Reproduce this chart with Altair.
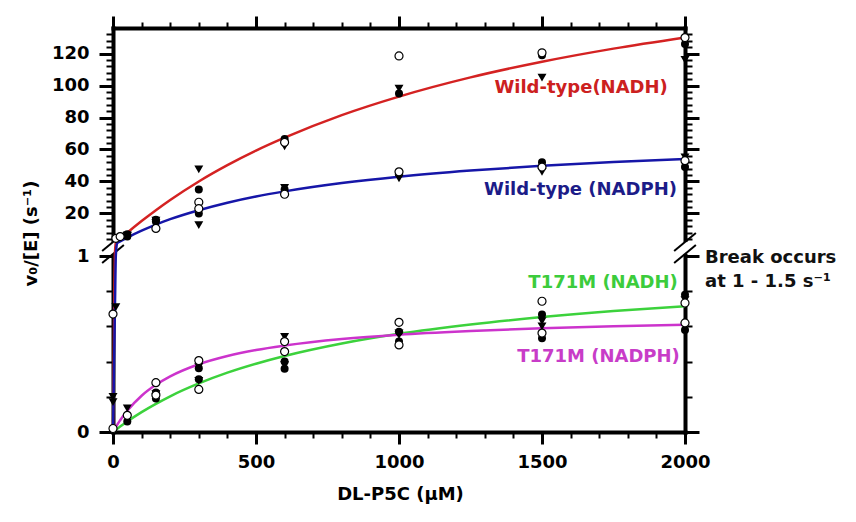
import altair as alt
import pandas as pd

# ---------------- data ----------------
# fitted curves (x in µM, v0/[E] in s^-1)
curve_x = [0, 1, 2, 3, 5, 7, 10, 15, 25, 50, 100, 150, 200, 300, 400, 500, 600,
           800, 1000, 1250, 1500, 1750, 2000]
wt_nadh_curve = [0, 0.16, 0.33, 0.49, 0.82, 1.14, 1.62, 2.42, 4.0, 7.9, 15.2, 22.0,
                 28.4, 40.0, 50.2, 59.3, 67.4, 81.5, 93.1, 105.1, 114.9, 123.1, 130.1]
wt_nadph_curve = [0, 0.10, 0.21, 0.32, 0.52, 0.73, 1.04, 1.55, 2.55, 4.9, 9.2, 13.0,
                  16.4, 22.0, 26.7, 30.6, 33.8, 39.0, 43.0, 46.8, 49.8, 52.1, 54.0]
t171m_nadh_curve = [0, 0.001, 0.0025, 0.004, 0.006, 0.009, 0.013, 0.019, 0.031, 0.06,
                    0.113, 0.16, 0.203, 0.276, 0.337, 0.388, 0.432, 0.503, 0.558,
                    0.611, 0.653, 0.687, 0.714]
t171m_nadph_curve = [0, 0.003, 0.006, 0.009, 0.015, 0.02, 0.028, 0.042, 0.067, 0.121,
                     0.206, 0.268, 0.316, 0.385, 0.432, 0.466, 0.491, 0.528, 0.553,
                     0.574, 0.590, 0.601, 0.610]

# replicate data points: x, value, marker ("filled", "open", "triangle")
pts_x = [
    # wild-type NADH
    10, 50, 50, 150, 150, 300, 300, 300, 600, 600, 600, 1000, 1000, 1000,
    1500, 1500, 1500, 2000, 2000, 2000,
    # wild-type NADPH
    25, 50, 50, 150, 150, 150, 300, 300, 300, 600, 600, 600, 1000, 1000, 1000,
    1500, 1500, 1500, 2000, 2000, 2000,
    # wild-type at very low substrate (below the break)
    0, 10, 0, 0, 0,
    # T171M NADH
    50, 150, 150, 150, 300, 300, 300, 600, 600, 600, 1000, 1000, 1000,
    1500, 1500, 1500, 2000, 2000, 2000,
    # T171M NADPH
    50, 50, 150, 150, 150, 300, 300, 300, 600, 600, 600, 1000, 1000, 1000,
    1500, 1500, 1500, 2000, 2000, 2000,
]
pts_v = [
    4.4, 7.0, 6.2, 16.0, 15.5, 35.0, 47.5, 27.0, 66.5, 62.0, 64.5, 95.0, 98.0, 118.5,
    119.0, 105.0, 120.5, 126.0, 116.0, 130.0,
    5.5, 5.5, 6.0, 15.0, 10.6, 14.0, 20.0, 23.0, 12.7, 35.0, 36.0, 32.0, 45.0, 42.0, 46.0,
    52.0, 46.0, 49.0, 49.0, 55.0, 53.0,
    0.67, 0.71, 0.20, 0.17, 0.02,
    0.06, 0.19, 0.20, 0.21, 0.242, 0.30, 0.29, 0.36, 0.38, 0.457, 0.623, 0.514, 0.55,
    0.743, 0.667, 0.63, 0.78, 0.733, 0.75,
    0.134, 0.095, 0.28, 0.225, 0.215, 0.406, 0.362, 0.37, 0.54, 0.514, 0.40,
    0.57, 0.56, 0.495, 0.562, 0.533, 0.60, 0.62, 0.58, 0.60,
]
pts_m = [
    "open", "filled", "triangle", "filled", "triangle", "filled", "triangle", "open",
    "filled", "triangle", "open", "filled", "triangle", "open", "filled", "triangle",
    "open", "filled", "triangle", "open",
    "open", "filled", "triangle", "filled", "open", "triangle", "filled", "open",
    "triangle", "filled", "triangle", "open", "filled", "triangle", "open", "filled",
    "triangle", "open", "filled", "triangle", "open",
    "open", "triangle", "triangle", "triangle", "open",
    "filled", "filled", "triangle", "open", "open", "filled", "triangle", "filled",
    "triangle", "open", "open", "filled", "triangle", "open", "filled", "triangle",
    "filled", "open", "triangle",
    "triangle", "open", "open", "filled", "triangle", "open", "filled", "triangle",
    "triangle", "open", "filled", "filled", "triangle", "open", "open", "filled",
    "triangle", "open", "filled", "triangle",
]

# in-plot labels
label_text = ["Wild-type(NADH)", "Wild-type (NADPH)", "T171M (NADH)", "T171M (NADPH)",
              "Break occurs", "at 1 - 1.5 s⁻¹"]
label_x = [1940, 1972, 1975, 1982, 2070, 2070]
label_v = [98.3, 34.6, 0.844, 0.427, 0.99, 0.85]
label_color = ["#cc2020", "#1c1c88", "#3ccc3c", "#c83cc8", "#111111", "#111111"]
label_align = ["right", "right", "right", "right", "left", "left"]

# axis tick values
x_major = [0, 500, 1000, 1500, 2000]
x_minor = [100, 200, 300, 400, 600, 700, 800, 900, 1100, 1200, 1300, 1400,
           1600, 1700, 1800, 1900]
y_major = [0, 1, 20, 40, 60, 80, 100, 120]
y_minor = [0.2, 0.4, 0.6, 0.8, 4, 8, 12, 16, 24, 28, 32, 36, 44, 48, 52, 56, 64, 68,
           72, 76, 84, 88, 92, 96, 104, 108, 112, 116, 124, 128, 132]

# axis-break marks (two slashes on each vertical axis) and the gap they enclose
brk_x = [-38, -38, 1962, 1962]
brk_x2 = [38, 38, 2038, 2038]
brk_v = [1.19, 0.96, 1.19, 0.96]
brk_v2 = [7.76, 1.42, 7.76, 1.42]
gap_x = [0, 2000]
gap_v = [1.08, 1.08]
gap_v2 = [2.1, 2.1]

# ---------------- chart ----------------
W, H = 572, 404
FONT = "DejaVu Sans"


def xs():
    return alt.Scale(domain=[0, 2000], nice=False, zero=False)


def ys():
    return alt.Scale(domain=[0, 1, 1.5, 136], range=[H, 228, 215, 0], nice=False, zero=False)


curve_df = pd.concat([
    pd.DataFrame({"x": curve_x, "v": vals, "series": name, "color": col,
                  "k": list(range(len(curve_x)))})
    for name, vals, col in [
        ("a_green", t171m_nadh_curve, "#3cd23c"),
        ("b_magenta", t171m_nadph_curve, "#cc33cc"),
        ("c_red", wt_nadh_curve, "#d42222"),
        ("d_blue", wt_nadph_curve, "#1616a8"),
    ]
])
pts_df = pd.DataFrame({"x": pts_x, "v": pts_v, "marker": pts_m})
lab_df = pd.DataFrame({"text": label_text, "x": label_x, "v": label_v,
                       "color": label_color, "align": label_align})
brk_df = pd.DataFrame({"x": brk_x, "x2": brk_x2, "v": brk_v, "v2": brk_v2})
gap_df = pd.DataFrame({"x": gap_x, "v": gap_v, "v2": gap_v2})

axis_style = dict(domainColor="black", tickColor="black", grid=False,
                  labelFont=FONT, labelFontWeight="bold", labelFontSize=18,
                  labelColor="black", titleFont=FONT, titleFontWeight="bold",
                  titleFontSize=18, titleColor="black", labelFlush=False,
                  labelOverlap=False, domainCap="square")
plain_style = {k: v for k, v in axis_style.items() if not k.startswith(("label", "title"))}

x_main = alt.Axis(orient="bottom", values=x_major, tickSize=12, tickWidth=3,
                  domainWidth=4, labelPadding=9, format="d",
                  title="DL-P5C (μM)", titleX=287, titleY=62,
                  titleBaseline="middle", **axis_style)
y_main = alt.Axis(orient="left", values=y_major, tickSize=14, tickWidth=3,
                  domainWidth=4, labelPadding=10, format="d",
                  title="v₀/[E] (s⁻¹)", titleX=-82, titleY=205,
                  titleBaseline="middle", titleAngle=-90, **axis_style)


def mirror_axes(orient_x, orient_y, xvals, yvals, xt, yt, tw, domain):
    return (alt.Axis(orient=orient_x, values=xvals, tickSize=xt, tickWidth=tw,
                     domain=domain, domainWidth=4, labels=False, title=None, **plain_style),
            alt.Axis(orient=orient_y, values=yvals, tickSize=yt, tickWidth=tw,
                     domain=domain, domainWidth=4, labels=False, title=None, **plain_style))


def axis_layer(ax, ay):
    return alt.Chart(gap_df).mark_point(opacity=0).encode(
        x=alt.X("x:Q", scale=xs(), axis=ax),
        y=alt.Y("v:Q", scale=ys(), axis=ay),
    )


ax1, ay1 = mirror_axes("bottom", "left", x_minor, y_minor, 6, 7, 2, False)
ax2, ay2 = mirror_axes("top", "right", x_major, y_major, 12, 14, 3, True)
ax3, ay3 = mirror_axes("top", "right", x_minor, y_minor, 6, 7, 2, False)

main_axes = axis_layer(x_main, y_main)

gap = alt.Chart(gap_df).mark_rule(color="white", strokeWidth=8).encode(
    x=alt.X("x:Q", scale=xs(), axis=None),
    y=alt.Y("v:Q", scale=ys(), axis=None),
    y2="v2:Q",
)
brk = alt.Chart(brk_df).mark_rule(color="black", strokeWidth=2).encode(
    x=alt.X("x:Q", scale=xs(), axis=None), x2="x2:Q",
    y=alt.Y("v:Q", scale=ys(), axis=None), y2="v2:Q",
)
curves = alt.Chart(curve_df).mark_line(strokeWidth=2.5, interpolate="monotone").encode(
    x=alt.X("x:Q", scale=xs(), axis=None),
    y=alt.Y("v:Q", scale=ys(), axis=None),
    color=alt.Color("color:N", scale=None),
    detail="series:N",
    order="k:Q",
)
pbase = alt.Chart(pts_df).encode(
    x=alt.X("x:Q", scale=xs(), axis=None),
    y=alt.Y("v:Q", scale=ys(), axis=None),
)
p_filled = pbase.transform_filter(alt.datum.marker == "filled").mark_point(
    shape="circle", filled=True, color="black", size=64, opacity=1)
p_tri = pbase.transform_filter(alt.datum.marker == "triangle").mark_point(
    shape="triangle-down", filled=True, color="black", size=80, opacity=1)
p_open = pbase.transform_filter(alt.datum.marker == "open").mark_point(
    shape="circle", filled=True, fill="white", stroke="black", strokeWidth=1.2,
    size=64, opacity=1)


def text_layer(align):
    return alt.Chart(lab_df).transform_filter(alt.datum.align == align).mark_text(
        font=FONT, fontWeight="bold", fontSize=18, baseline="middle", align=align).encode(
        x=alt.X("x:Q", scale=xs(), axis=None),
        y=alt.Y("v:Q", scale=ys(), axis=None),
        text="text:N",
        color=alt.Color("color:N", scale=None),
    )


chart = alt.layer(
    axis_layer(ax1, ay1), axis_layer(ax2, ay2), axis_layer(ax3, ay3), main_axes,
    gap, brk, curves, p_filled, p_tri, p_open, text_layer("right"), text_layer("left"),
).resolve_scale(x="independent", y="independent").properties(
    width=W, height=H,
    autosize=alt.AutoSizeParams(type="none"),
    padding={"left": 105, "top": 20, "right": 163, "bottom": 82},
).configure_view(stroke=None).configure(background="white")

chart.save("out.html", embed_options={"renderer": "svg", "actions": False})
